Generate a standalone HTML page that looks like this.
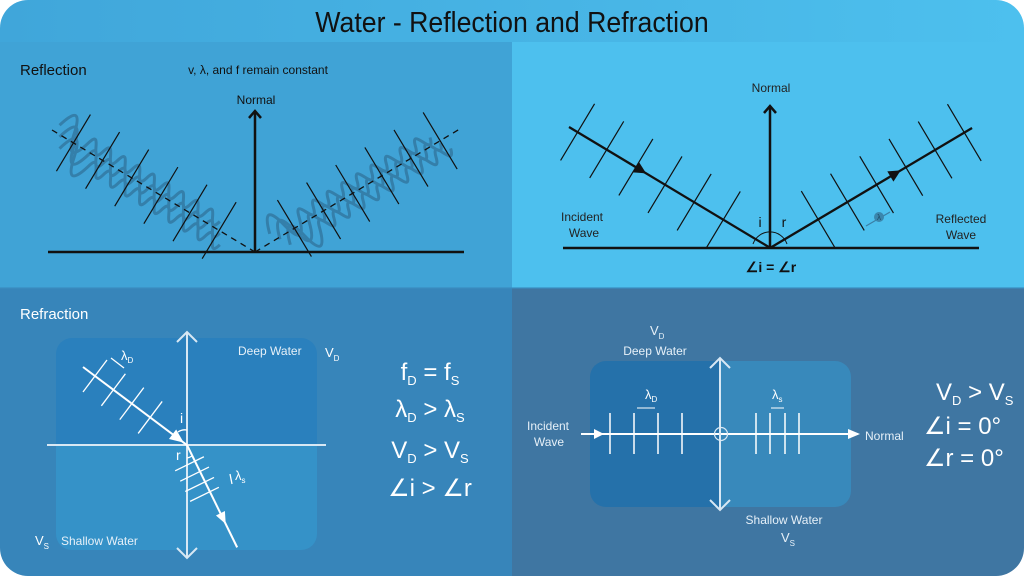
<!DOCTYPE html>
<html><head><meta charset="utf-8"><style>
html,body{margin:0;padding:0;background:#fff;}
svg{display:block;font-family:"Liberation Sans",sans-serif;}
</style></head><body>
<svg width="1024" height="576" viewBox="0 0 1024 576" xmlns="http://www.w3.org/2000/svg">
<defs>
<linearGradient id="tg" x1="0" x2="1"><stop offset="0" stop-color="#40a6da"/><stop offset="1" stop-color="#4dc0ee"/></linearGradient>
<clipPath id="cp"><rect x="0" y="0" width="1024" height="576" rx="28"/></clipPath>
<path id="wv" d="M0,0 c6,-22 12,-22 17,0 s11,22 17,0 s11,22 17,0 s11,22 17,0 s11,22 17,0 s11,22 17,0 s11,22 17,0 s11,22 17,0 s11,22 17,0 s11,22 17,0 s11,22 17,0"/>
</defs>
<g clip-path="url(#cp)">
<rect x="0" y="0" width="1024" height="42" fill="url(#tg)"/>
<rect x="0" y="42" width="512" height="246" fill="#40a3d6"/>
<rect x="512" y="42" width="512" height="246" fill="#4dc0ee"/>
<rect x="0" y="288" width="512" height="288" fill="#3785ba"/>
<rect x="512" y="288" width="512" height="288" fill="#3f76a2"/>
<rect x="0" y="287" width="1024" height="2" fill="#3a8cc0" opacity="0.6"/>
</g>
<text x="512" y="32" text-anchor="middle" font-size="29" fill="#111" transform="translate(512,0) scale(0.92,1) translate(-512,0)">Water - Reflection and Refraction</text>

<!-- TOP LEFT -->
<text x="20" y="75" font-size="15" fill="#111">Reflection</text>
<text x="258" y="74" text-anchor="middle" font-size="12" fill="#111">v, λ, and f remain constant</text>
<text x="256" y="104" text-anchor="middle" font-size="12" fill="#111">Normal</text>
<line x1="48" y1="252" x2="464" y2="252" stroke="#111" stroke-width="2.5"/>
<line x1="255" y1="252" x2="255" y2="111" stroke="#111" stroke-width="2.5"/>
<polyline points="249,118 255,111 261,118" fill="none" stroke="#111" stroke-width="2.5"/>
<g transform="translate(52,130) rotate(31)">
<g fill="none" stroke="#2e6d93" stroke-width="3" opacity="0.65">
<use href="#wv" x="4" y="-8"/>
<use href="#wv" x="10" y="2"/>
<use href="#wv" x="16" y="12"/>
</g>
<line x1="0" y1="0" x2="237" y2="0" stroke="#111" stroke-width="1.3" stroke-dasharray="6,5"/>
<g stroke="#111" stroke-width="1.2">
<line x1="25" y1="-33" x2="25" y2="33"/><line x1="59" y1="-33" x2="59" y2="33"/><line x1="93" y1="-33" x2="93" y2="33"/><line x1="127" y1="-33" x2="127" y2="33"/><line x1="161" y1="-33" x2="161" y2="33"/><line x1="195" y1="-33" x2="195" y2="33"/>
</g></g>
<g transform="translate(255,252) rotate(-31)">
<g fill="none" stroke="#2e6d93" stroke-width="3" opacity="0.65">
<use href="#wv" x="22" y="-8"/>
<use href="#wv" x="28" y="2"/>
<use href="#wv" x="34" y="12"/>
</g>
<line x1="0" y1="0" x2="239" y2="0" stroke="#111" stroke-width="1.3" stroke-dasharray="6,5"/>
<g stroke="#111" stroke-width="1.2">
<line x1="46" y1="-33" x2="46" y2="33"/><line x1="80" y1="-33" x2="80" y2="33"/><line x1="114" y1="-33" x2="114" y2="33"/><line x1="148" y1="-33" x2="148" y2="33"/><line x1="182" y1="-33" x2="182" y2="33"/><line x1="216" y1="-33" x2="216" y2="33"/>
</g></g>

<!-- TOP RIGHT -->
<text x="771" y="92" text-anchor="middle" font-size="12" fill="#222">Normal</text>
<line x1="563" y1="248" x2="979" y2="248" stroke="#111" stroke-width="2.5"/>
<line x1="770" y1="248" x2="770" y2="106" stroke="#111" stroke-width="2.5"/>
<polyline points="764,113 770,106 776,113" fill="none" stroke="#111" stroke-width="2.5"/>
<g transform="translate(569,127) rotate(31)">
<line x1="0" y1="0" x2="235" y2="0" stroke="#111" stroke-width="2.3"/>
<polygon points="90,0 78,-6 78,6" fill="#111"/>
<g stroke="#111" stroke-width="1.2">
<line x1="10" y1="-33" x2="10" y2="33"/><line x1="44" y1="-33" x2="44" y2="33"/><line x1="78" y1="-33" x2="78" y2="33"/><line x1="112" y1="-33" x2="112" y2="33"/><line x1="146" y1="-33" x2="146" y2="33"/><line x1="180" y1="-33" x2="180" y2="33"/>
</g></g>
<g transform="translate(770,248) rotate(-30.7)">
<line x1="0" y1="0" x2="235" y2="0" stroke="#111" stroke-width="2.3"/>
<polygon points="152,0 140,-6 140,6" fill="#111"/>
<g stroke="#111" stroke-width="1.2">
<line x1="56" y1="-33" x2="56" y2="33"/><line x1="90" y1="-33" x2="90" y2="33"/><line x1="124" y1="-33" x2="124" y2="33"/><line x1="158" y1="-33" x2="158" y2="33"/><line x1="192" y1="-33" x2="192" y2="33"/><line x1="226" y1="-33" x2="226" y2="33"/>
</g></g>
<line x1="866" y1="226" x2="890" y2="212" stroke="#3a7fa6" stroke-width="1.2"/>
<circle cx="879" cy="217" r="5" fill="#3a86ad"/>
<text x="879" y="220" text-anchor="middle" font-size="8" fill="#1d4a66">λ</text>
<path d="M753,244 A18,18 0 0 1 787,244" fill="none" stroke="#111" stroke-width="1"/>
<text x="760" y="227" text-anchor="middle" font-size="14" fill="#111">i</text>
<text x="784" y="227" text-anchor="middle" font-size="14" fill="#111">r</text>
<text x="582" y="221" text-anchor="middle" font-size="12" fill="#222">Incident</text>
<text x="584" y="237" text-anchor="middle" font-size="12" fill="#222">Wave</text>
<text x="961" y="223" text-anchor="middle" font-size="12" fill="#222">Reflected</text>
<text x="961" y="239" text-anchor="middle" font-size="12" fill="#222">Wave</text>
<text x="771" y="272" text-anchor="middle" font-size="14" font-weight="bold" fill="#111">∠i = ∠r</text>

<!-- BOTTOM LEFT -->
<text x="20" y="319" font-size="15" fill="#fff">Refraction</text>
<path d="M72,338 H301 a16,16 0 0 1 16,16 V445 H56 V354 a16,16 0 0 1 16,-16z" fill="#2a80bd"/>
<path d="M56,445 H317 V534 a16,16 0 0 1 -16,16 H72 a16,16 0 0 1 -16,-16z" fill="#3592c8"/>
<g stroke="#d8e8f4" stroke-width="2" fill="none">
<line x1="47" y1="445" x2="326" y2="445"/>
<line x1="187" y1="332" x2="187" y2="558"/>
<polyline points="177,342 187,332 197,342"/>
<polyline points="177,548 187,558 197,548"/>
</g>
<g stroke="#fff" stroke-width="1.3" fill="none">
<g transform="translate(83,367) rotate(36.9)">
<line x1="0" y1="0" x2="130" y2="0" stroke-width="2"/>
<line x1="15" y1="-20" x2="15" y2="20"/><line x1="38" y1="-20" x2="38" y2="20"/><line x1="61" y1="-20" x2="61" y2="20"/><line x1="84" y1="-20" x2="84" y2="20"/>
</g>
<g transform="translate(187,445) rotate(63.9)">
<line x1="0" y1="0" x2="114" y2="0" stroke-width="2"/>
<line x1="18" y1="-10" x2="18" y2="22"/><line x1="29.5" y1="-10" x2="29.5" y2="22"/><line x1="41" y1="-10" x2="41" y2="22"/><line x1="52" y1="-10" x2="52" y2="22"/>
</g>
<path d="M178,432 A12,12 0 0 1 187,430"/>
<path d="M187,458 A12,12 0 0 0 192,456"/>
<line x1="111" y1="358" x2="124" y2="368"/>
<line x1="230" y1="474" x2="232" y2="484"/>
</g>
<g transform="translate(83,367) rotate(36.9)"><polygon points="126,0 112,-6 112,6" fill="#fff"/></g>
<g transform="translate(187,445) rotate(63.9)"><polygon points="88,0 76,-5 76,5" fill="#fff"/></g>
<text x="180" y="423" font-size="14" fill="#fff">i</text>
<text x="176" y="460" font-size="14" fill="#fff">r</text>
<text x="121" y="360" font-size="13" fill="#fff">λ<tspan font-size="8" dy="3">D</tspan></text>
<text x="235" y="480" font-size="13" fill="#fff">λ<tspan font-size="8" dy="3">s</tspan></text>
<text x="238" y="355" font-size="12" fill="#e6f0f8">Deep Water</text>
<text x="325" y="357" font-size="13" fill="#fff">V<tspan font-size="8" dy="4">D</tspan></text>
<text x="61" y="545" font-size="12" fill="#e6f0f8">Shallow Water</text>
<text x="35" y="545" font-size="13" fill="#fff">V<tspan font-size="8" dy="4">S</tspan></text>
<g fill="#fff" font-size="24" text-anchor="middle">
<text x="430" y="380">f<tspan font-size="13" dy="5">D</tspan><tspan dy="-5"> = f</tspan><tspan font-size="13" dy="5">S</tspan></text>
<text x="430" y="417">λ<tspan font-size="13" dy="5">D</tspan><tspan dy="-5"> &gt; λ</tspan><tspan font-size="13" dy="5">S</tspan></text>
<text x="430" y="458">V<tspan font-size="13" dy="5">D</tspan><tspan dy="-5"> &gt; V</tspan><tspan font-size="13" dy="5">S</tspan></text>
<text x="430" y="496">∠i &gt; ∠r</text>
</g>

<!-- BOTTOM RIGHT -->
<path d="M606,361 H721 V507 H606 a16,16 0 0 1 -16,-16 V377 a16,16 0 0 1 16,-16z" fill="#2571aa"/>
<path d="M721,361 H835 a16,16 0 0 1 16,16 V491 a16,16 0 0 1 -16,16 H721z" fill="#3889bb"/>
<g stroke="#fff" stroke-width="1.5" fill="none">
<line x1="581" y1="434" x2="858" y2="434" stroke-width="2"/>
<line x1="610" y1="413" x2="610" y2="454"/><line x1="634" y1="413" x2="634" y2="454"/><line x1="658" y1="413" x2="658" y2="454"/><line x1="682" y1="413" x2="682" y2="454"/>
<line x1="756" y1="413" x2="756" y2="454"/><line x1="770" y1="413" x2="770" y2="454"/><line x1="785" y1="413" x2="785" y2="454"/><line x1="799" y1="413" x2="799" y2="454"/>
<line x1="637" y1="408" x2="655" y2="408" stroke-width="1"/>
<line x1="771" y1="408" x2="784" y2="408" stroke-width="1"/>
</g>
<g stroke="#d8e8f4" stroke-width="2" fill="none">
<line x1="720" y1="358" x2="720" y2="510"/>
<polyline points="710,368 720,358 730,368"/>
<polyline points="710,500 720,510 730,500"/>
<circle cx="721" cy="434" r="6.5" stroke-width="1.2"/>
</g>
<polygon points="604,434 594,429 594,439" fill="#fff"/>
<polygon points="860,434 848,429 848,439" fill="#fff"/>
<text x="645" y="399" font-size="13" fill="#fff">λ<tspan font-size="8" dy="3">D</tspan></text>
<text x="772" y="399" font-size="13" fill="#fff">λ<tspan font-size="8" dy="3">s</tspan></text>
<text x="548" y="430" text-anchor="middle" font-size="12" fill="#e6f0f8">Incident</text>
<text x="549" y="446" text-anchor="middle" font-size="12" fill="#e6f0f8">Wave</text>
<text x="865" y="440" font-size="12" fill="#e6f0f8">Normal</text>
<text x="650" y="335" font-size="13" fill="#e6f0f8">V<tspan font-size="8" dy="4">D</tspan></text>
<text x="655" y="355" text-anchor="middle" font-size="12" fill="#e6f0f8">Deep Water</text>
<text x="784" y="524" text-anchor="middle" font-size="12" fill="#e6f0f8">Shallow Water</text>
<text x="781" y="542" font-size="13" fill="#e6f0f8">V<tspan font-size="8" dy="4">S</tspan></text>
<g fill="#fff" font-size="24">
<text x="936" y="400">V<tspan font-size="13" dy="5">D</tspan><tspan dy="-5"> &gt; V</tspan><tspan font-size="13" dy="5">S</tspan></text>
<text x="924" y="434">∠i  = 0°</text>
<text x="924" y="466">∠r  = 0°</text>
</g>
</svg>
</body></html>
